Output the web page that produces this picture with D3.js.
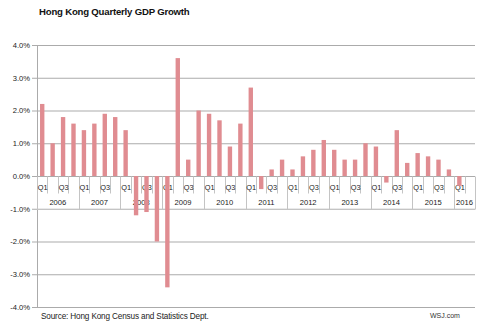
<!DOCTYPE html>
<html>
<head>
<meta charset="utf-8">
<script src="https://cdn.jsdelivr.net/npm/d3@7"></script>
<style>
  html, body { margin: 0; padding: 0; background: #fff; }
  svg { display: block; font-family: "Liberation Sans", Arial, sans-serif; }
</style>
</head>
<body>
<svg id="chart" width="482" height="330"></svg>
<script>
// Quarterly GDP growth, % change on previous quarter
const years = ["2006", "2007", "2008", "2009", "2010", "2011", "2012", "2013", "2014", "2015", "2016"];
const quarters = ["Q1", "Q2", "Q3", "Q4"];
const quarterLabels = ["Q1", "Q3"];
const growth = [
  2.2, 1.0, 1.8, 1.6,    // 2006
  1.4, 1.6, 1.9, 1.8,    // 2007
  1.4, -1.2, -1.1, -2.0, // 2008
  -3.4, 3.6, 0.5, 2.0,   // 2009
  1.9, 1.7, 0.9, 1.6,    // 2010
  2.7, -0.4, 0.2, 0.5,   // 2011
  0.2, 0.6, 0.8, 1.1,    // 2012
  0.8, 0.5, 0.5, 1.0,    // 2013
  0.9, -0.2, 1.4, 0.4,   // 2014
  0.7, 0.6, 0.5, 0.2,    // 2015
  -0.3                   // 2016
];
const yTicks = [-4, -3, -2, -1, 0, 1, 2, 3, 4];
const title = "Hong Kong Quarterly GDP Growth";
const sourceText = "Source:  Hong Kong Census and Statistics Dept.";
const creditText = "WSJ.com";

// The final year shows two quarter slots, the second still empty
const quartersShown = yr => (yr === "2016" ? quarters.slice(0, 2) : quarters);
const cats = [];
years.forEach(yr => quartersShown(yr).forEach(q => cats.push({ year: yr, q, key: yr + " " + q })));
cats.forEach((c, i) => { c.value = i < growth.length ? growth[i] : null; });

const svg = d3.select("#chart");
const plotLeft = 37, plotRight = 475, plotTop = 45, plotBottom = 307;

const x = d3.scaleBand()
  .domain(cats.map(c => c.key))
  .range([plotLeft, plotRight])
  .paddingInner(0.58)
  .paddingOuter(0.29);
const step = x.step();

const y = d3.scaleLinear().domain([-4, 4]).range([plotBottom, plotTop]);
const fmt = d3.formatLocale({ decimal: ".", thousands: ",", grouping: [3], currency: ["", ""], minus: "-" }).format(".1f");

const grid = "#ababab";
const boxLine = "#c4c4c4";

// Title
svg.append("text")
  .attr("x", 39).attr("y", 15)
  .attr("font-size", 9.6).attr("font-weight", "bold")
  .attr("fill", "#111")
  .attr("letter-spacing", -0.2)
  .text(title);

// Value axis with gridlines
const yAxis = svg.append("g").attr("transform", `translate(${plotLeft},0)`)
  .call(d3.axisLeft(y).tickValues(yTicks).tickFormat(d => fmt(d) + "%").tickSize(5).tickPadding(2));
yAxis.select(".domain").attr("stroke", grid);
yAxis.selectAll(".tick line").attr("stroke", grid);
yAxis.selectAll(".tick text").attr("font-size", 7.6).attr("fill", "#222")
  .attr("font-family", "Liberation Sans, Arial, sans-serif");
yAxis.selectAll(".tick").filter(d => d !== 0).append("line")
  .attr("x1", 0).attr("x2", plotRight - plotLeft)
  .attr("stroke", grid).attr("stroke-width", 1.2);

// Category axis: quarter row and year row boxes below the zero line
const y0 = Math.round(y(0)) + 0.5;
const qRowBottom = y0 + 17;
const yearRowBottom = y0 + 33;
const cat = svg.append("g");
cat.append("line")
  .attr("x1", plotLeft).attr("x2", plotRight).attr("y1", y0).attr("y2", y0)
  .attr("stroke", grid).attr("stroke-width", 1.2);
cat.append("line")
  .attr("x1", plotLeft).attr("x2", plotRight).attr("y1", yearRowBottom).attr("y2", yearRowBottom)
  .attr("stroke", boxLine);

// quarter separators
cat.selectAll("line.qsep")
  .data(cats.filter(c => c.q !== "Q1"))
  .join("line")
  .attr("class", "qsep")
  .attr("x1", c => Math.round(x(c.key) - step * 0.29) + 0.5)
  .attr("x2", c => Math.round(x(c.key) - step * 0.29) + 0.5)
  .attr("y1", y0).attr("y2", qRowBottom)
  .attr("stroke", boxLine);

// year separators
const yearEdges = years.map(yr => x(yr + " Q1") - step * 0.29).concat([plotRight]);
cat.selectAll("line.ysep")
  .data(yearEdges)
  .join("line")
  .attr("class", "ysep")
  .attr("x1", d => Math.round(d) + 0.5).attr("x2", d => Math.round(d) + 0.5)
  .attr("y1", y0).attr("y2", yearRowBottom)
  .attr("stroke", boxLine);

cat.selectAll("text.q")
  .data(cats.filter(c => quarterLabels.includes(c.q) && c.value !== null))
  .join("text")
  .attr("class", "q")
  .attr("x", c => x(c.key) + x.bandwidth() / 2 + 0.5)
  .attr("y", y0 + 13)
  .attr("text-anchor", "middle")
  .attr("font-size", 7.4).attr("fill", "#222")
  .text(c => c.q);

cat.selectAll("text.yr")
  .data(years)
  .join("text")
  .attr("class", "yr")
  .attr("x", (yr, i) => (yearEdges[i] + yearEdges[i + 1]) / 2)
  .attr("y", y0 + 28)
  .attr("text-anchor", "middle")
  .attr("font-size", 7.6).attr("fill", "#222")
  .text(yr => yr);

// Bars
svg.append("g").selectAll("rect")
  .data(cats.filter(c => c.value !== null))
  .join("rect")
  .attr("x", c => x(c.key))
  .attr("width", x.bandwidth())
  .attr("y", c => y(Math.max(0, c.value)))
  .attr("height", c => Math.abs(y(c.value) - y(0)))
  .attr("fill", "#e08c91");

// Footer
svg.append("text")
  .attr("x", 41).attr("y", 319)
  .attr("font-size", 8.2).attr("fill", "#222")
  .attr("letter-spacing", -0.15)
  .text(sourceText);
svg.append("text")
  .attr("x", 430).attr("y", 318)
  .attr("font-size", 7).attr("fill", "#333")
  .text(creditText);
</script>
</body>
</html>
